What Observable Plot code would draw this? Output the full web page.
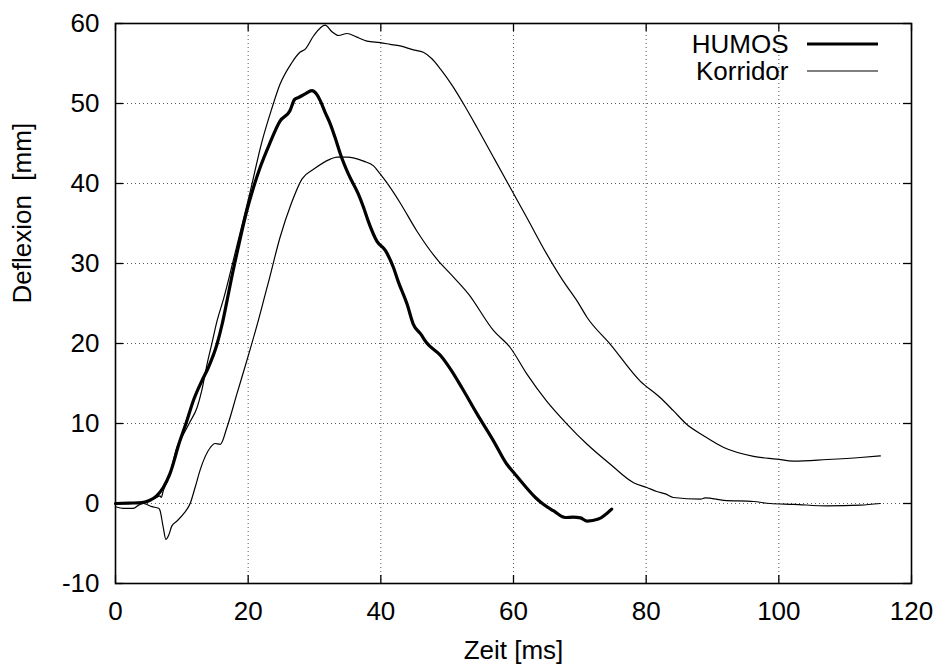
<!DOCTYPE html>
<html>
<head>
<meta charset="utf-8">
<script src="https://cdn.jsdelivr.net/npm/d3@7"></script>
<script src="https://cdn.jsdelivr.net/npm/@observablehq/plot@0.6"></script>
<style>
  html, body { margin: 0; padding: 0; background: #fff; }
  #chart svg { display: block; font-family: "Liberation Sans", Arial, Helvetica, sans-serif; }
</style>
</head>
<body>
<div id="chart"></div>
<script>
// ---- Data ----
const xTicks = [0, 20, 40, 60, 80, 100, 120];
const yTicks = [-10, 0, 10, 20, 30, 40, 50, 60];
const seriesNames = ["HUMOS", "Korridor"];
const xLabel = "Zeit [ms]";
const yLabel = "Deflexion  [mm]";

const humosX = [0, 2, 4, 5.2, 6.2, 7.2, 8.2, 9.7, 10.7, 11.8, 13.0, 14.0, 15.3, 16.1, 16.8, 17.5, 18.5, 19.8, 20.8, 21.8, 23.2, 24.8, 26.3, 27.0, 27.6, 28.6, 29.6, 30.3, 30.9, 31.6, 32.4, 33.2, 33.9, 35.1, 36.6, 37.4, 38.1, 39.4, 40.7, 41.9, 42.6, 44.0, 44.9, 46.0, 46.9, 49.0, 50.5, 52.2, 54.5, 57.0, 59.0, 60.0, 61.5, 63.3, 64.5, 66.0, 67.8, 69.0, 70.1, 71.1, 72.8, 74.8];
const humosY = [0, 0.05, 0.1, 0.4, 0.96, 2.0, 3.7, 7.8, 10.2, 13.0, 15.3, 17.0, 19.9, 22.5, 25.3, 28.2, 32.0, 36.6, 39.5, 42.0, 44.9, 47.8, 49.1, 50.5, 50.75, 51.2, 51.6, 51.2, 50.3, 48.9, 47.4, 45.5, 43.7, 41.2, 38.7, 37.0, 35.3, 32.8, 31.6, 29.5, 27.8, 24.8, 22.4, 21.2, 20.1, 18.5, 16.8, 14.5, 11.2, 7.8, 4.9, 3.9, 2.4, 0.75, -0.1, -0.9, -1.75, -1.7, -1.8, -2.2, -1.95, -0.7];

const upperX = [0, 1.2, 2.7, 3.5, 4.2, 5.2, 6.2, 6.7, 6.9, 7.2, 7.7, 8.2, 9.25, 10.0, 11.3, 12.3, 13.0, 13.8, 14.5, 15.3, 16.3, 18.0, 20.1, 22.1, 23.5, 24.8, 26.5, 27.8, 28.6, 29.9, 31.6, 32.6, 33.6, 34.9, 36.4, 37.9, 39.9, 41.4, 42.9, 44.9, 46.4, 47.7, 49.0, 50.8, 52.5, 54.5, 57.0, 59.5, 62.0, 65.0, 67.5, 69.6, 71.1, 74.6, 79.1, 82.1, 84.1, 86.1, 88.6, 91.7, 96.2, 99.7, 102.2, 107.3, 112.3, 115.3];
const upperY = [-0.4, -0.6, -0.6, -0.2, 0.05, 0.4, 0.75, 0.96, 0.75, 1.6, 2.6, 3.7, 7.0, 8.25, 10.3, 12.0, 14.1, 17.4, 19.9, 22.8, 25.6, 31.2, 38.25, 45.3, 49.2, 52.4, 55.0, 56.4, 56.8, 58.5, 59.8, 59.0, 58.5, 58.75, 58.3, 57.8, 57.6, 57.4, 57.2, 56.7, 56.4, 55.6, 54.3, 52.2, 49.9, 47.0, 43.25, 39.5, 35.75, 31.2, 27.8, 25.3, 23.25, 19.9, 15.3, 13.25, 11.6, 9.9, 8.5, 7.0, 5.9, 5.55, 5.3, 5.5, 5.75, 5.95];

const lowerX = [0, 2, 4.2, 5.5, 6.5, 6.7, 7.2, 7.6, 8.0, 8.5, 9.25, 10.25, 11.3, 12.0, 12.8, 14.3, 15.0, 15.8, 16.8, 18.3, 20.1, 21.8, 22.3, 23.1, 24.8, 26.5, 28.1, 29.9, 32.4, 33.4, 34.9, 37.4, 38.9, 39.9, 40.9, 42.9, 45.4, 48.7, 50.5, 53.2, 57.0, 59.5, 62.0, 65.0, 68.1, 71.1, 74.6, 78.1, 80.1, 81.6, 82.9, 84.1, 88.2, 88.9, 91.7, 96.2, 98.7, 102.2, 107.3, 112.3, 115.3];
const lowerY = [0, 0.05, 0, -0.4, -0.6, -0.85, -3.0, -4.5, -4.0, -2.8, -2.2, -1.3, 0.1, 2.0, 4.3, 7.0, 7.5, 7.4, 9.5, 13.7, 18.7, 23.7, 25.3, 27.8, 33.25, 37.5, 40.55, 41.8, 43.05, 43.3, 43.3, 42.8, 42.2, 41.2, 40.1, 37.6, 34.1, 30.3, 28.7, 26.2, 21.6, 19.5, 16.2, 12.8, 9.9, 7.4, 4.9, 2.6, 2.0, 1.5, 1.2, 0.75, 0.55, 0.7, 0.4, 0.25, 0, -0.1, -0.3, -0.2, 0];

// ---- Build tables ----
const toPts = (xs, ys) => xs.map((x, i) => ({x, y: ys[i]}));
const humos = toPts(humosX, humosY);
const upper = toPts(upperX, upperY);
const lower = toPts(lowerX, lowerY);

const W = 941, H = 669;
const mL = 115, mR = 30, mT = 23, mB = 86;
const innerH = H - mT - mB, innerW = W - mL - mR;
const tickLen = 8;
const fs = 26;
const grid = {stroke: "#555", strokeWidth: 1, strokeDasharray: "1,3"};
const legendDx = -123;           // right edge of legend text relative to frame right
const legendRows = [21, 48];     // row centres below the frame top
const legendWidths = [3.2, 1.2];

const chart = Plot.plot({
  width: W,
  height: H,
  marginLeft: mL,
  marginRight: mR,
  marginTop: mT,
  marginBottom: mB,
  x: {domain: [0, 120], axis: null},
  y: {domain: [-10, 60], axis: null},
  marks: [
    // dotted grid
    Plot.ruleX(xTicks.slice(1, -1), {x: d => d, ...grid}),
    Plot.ruleY(yTicks.slice(1, -1), {y: d => d, ...grid}),
    // inward ticks on all four sides
    Plot.ruleX(xTicks, {x: d => d, insetTop: innerH - tickLen, stroke: "black", strokeWidth: 1.3}),
    Plot.ruleX(xTicks, {x: d => d, insetBottom: innerH - tickLen, stroke: "black", strokeWidth: 1.3}),
    Plot.ruleY(yTicks, {y: d => d, insetRight: innerW - tickLen, stroke: "black", strokeWidth: 1.3}),
    Plot.ruleY(yTicks, {y: d => d, insetLeft: innerW - tickLen, stroke: "black", strokeWidth: 1.3}),
    // data
    Plot.line(lower, {x: "x", y: "y", stroke: "black", strokeWidth: 1.2, curve: "monotone-x"}),
    Plot.line(upper, {x: "x", y: "y", stroke: "black", strokeWidth: 1.2, curve: "monotone-x"}),
    Plot.line(humos, {x: "x", y: "y", stroke: "black", strokeWidth: 3.2, curve: "monotone-x"}),
    // frame
    Plot.frame({stroke: "black", strokeWidth: 1.6}),
    // tick labels
    Plot.text(xTicks, {x: d => d, frameAnchor: "bottom", dy: 28, lineAnchor: "middle", text: d => String(d), fontSize: fs, fill: "black"}),
    Plot.text(yTicks, {y: d => d, frameAnchor: "left", dx: -16, textAnchor: "end", text: d => String(d), fontSize: fs, fill: "black"}),
    // axis titles
    Plot.text([xLabel], {frameAnchor: "bottom", dy: 67, lineAnchor: "middle", text: d => d, fontSize: fs, fill: "black"}),
    Plot.text([yLabel], {frameAnchor: "left", dx: -93, rotate: -90, text: d => d, fontSize: fs, fill: "black"}),
    // legend labels
    ...seriesNames.map((name, i) =>
      Plot.text([name], {frameAnchor: "top-right", dx: legendDx, dy: legendRows[i], lineAnchor: "middle", textAnchor: "end", text: d => d, fontSize: fs, fill: "black"})
    )
  ]
});

document.getElementById("chart").appendChild(chart);

const svg = d3.select(chart);
svg.selectAll("text").filter(function() { return this.textContent === yLabel; }).style("white-space", "pre");
// legend line samples
const legend = svg.append("g");
seriesNames.forEach((name, i) => {
  legend.append("line")
    .attr("x1", W - mR + legendDx + 19).attr("x2", W - mR + legendDx + 90)
    .attr("y1", mT + legendRows[i]).attr("y2", mT + legendRows[i])
    .attr("stroke", "black").attr("stroke-width", legendWidths[i]);
});
</script>
</body>
</html>
